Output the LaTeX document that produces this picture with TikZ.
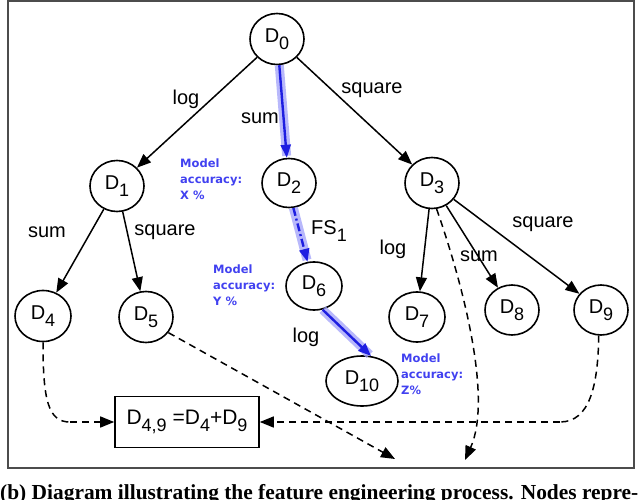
\documentclass[tikz,border=0pt]{standalone}
\usepackage{fontspec}
\setmainfont{Liberation Sans}
\newfontfamily\accfont{DejaVu Sans}
\newfontfamily\capfont{Liberation Serif}
\usetikzlibrary{shapes.geometric,arrows.meta}
\definecolor{hiblue}{RGB}{30,30,225}
\definecolor{accblue}{RGB}{65,65,240}
\definecolor{glow}{RGB}{160,160,250}
\newcommand{\Dn}[1]{D\raisebox{-0.36em}{\fontsize{18}{18}\selectfont #1}}
\newcommand{\Sb}[1]{\raisebox{-0.36em}{\fontsize{18}{18}\selectfont #1}}
\begin{document}
\begin{tikzpicture}[x=1pt,y=-1pt,
  dnode/.style={draw,ellipse,line width=1.6pt,minimum width=54pt,minimum height=51pt,inner sep=0pt,font=\fontsize{20}{20}\selectfont},
  arr/.style={line width=1.5pt,-{Triangle[length=14pt,width=11pt]}},
  dsh/.style={line width=1.5pt,dash pattern=on 7pt off 5pt,-{Triangle[length=14pt,width=11pt]}},
  dshn/.style={line width=1.5pt,dash pattern=on 7pt off 5pt},
  glowline/.style={line width=9pt,glow,opacity=0.75,shorten >=2pt},
  barr/.style={line width=2.4pt,hiblue,-{Triangle[length=13pt,width=10pt]}},
  lbl/.style={font=\fontsize{20}{20}\selectfont,inner sep=0pt},
  acc/.style={font=\accfont\bfseries\fontsize{11.5}{16}\selectfont,text=accblue,align=left,anchor=north west,inner sep=0pt}]
\useasboundingbox (0,0) rectangle (640,500);
\clip (0,0) rectangle (640,500);
% frame
\draw[line width=1.6pt,black!70] (8,1) rectangle (634,468);
% nodes
\node[dnode] (D0) at (277,39) {\Dn{0}};
\node[dnode] (D1) at (117,186) {\Dn{1}};
\node[dnode,minimum height=49pt] (D2) at (289,183) {\Dn{2}};
\node[dnode] (D3) at (432,183) {\Dn{3}};
\node[dnode,minimum width=56pt] (D4) at (43,316) {\Dn{4}};
\node[dnode] (D5) at (146,317) {\Dn{5}};
\node[dnode,minimum width=56pt,minimum height=48pt] (D6) at (314,286) {\Dn{6}};
\node[dnode,minimum width=56pt,minimum height=50pt] (D7) at (417,317) {\Dn{7}};
\node[dnode,minimum height=50pt] (D8) at (512,310) {\Dn{8}};
\node[dnode,minimum height=50pt] (D9) at (601,310) {\Dn{9}};
\node[dnode,minimum width=72pt,minimum height=50pt] (D10) at (362,381) {\Dn{10}};
\node[draw,line width=1.6pt,minimum width=144pt,minimum height=51pt,inner sep=0pt,font=\fontsize{21}{21}\selectfont] (box) at (187,422) {D\Sb{4,9} =D\Sb{4}+D\Sb{9}};
% solid edges
\draw[arr] (D0) -- (D1);
\draw[arr] (D0) -- (D3);
\draw[arr] (D1) -- (D4);
\draw[arr] (D1) -- (D5);
\draw[arr] (D3) -- (D7);
\draw[arr] (D3) -- (D8);
\draw[arr] (D3) -- (D9);
% highlighted path
\draw[glowline] (D0.-85) -- (D2.95);
\draw[glowline] (D2.-80) -- (D6.105);
\draw[glowline] (D6.-70) -- (D10.70);
\draw[barr] (D0.-85) -- (D2.95);
\draw[barr,dash pattern=on 8pt off 3pt on 2pt off 3pt] (D2.-80) -- (D6.105);
\draw[barr] (D6.-70) -- (D10.70);
% dashed edges
\coordinate (tipA) at (395,459);
\coordinate (tipB) at (465,460);
\coordinate (c9) at (560,422);
\coordinate (c4) at (70,422);
\draw[dsh] (D5.-35) -- (tipA);
\draw[dsh] (D3.-80) .. controls (465,290) and (492,400) .. (tipB);
\draw[dshn] (D9.-95) .. controls (598,385) and (590,422) .. (c9);
\draw[dsh] (c9) -- (box.east);
\draw[dshn] (D4.-90) .. controls (43,400) and (48,422) .. (c4);
\draw[dsh] (c4) -- (box.west);
% labels
\node[lbl] (l1) at (186,99) {log};
\node[lbl] (l2) at (260,118) {sum};
\node[lbl] (l3) at (372,90) {square};
\node[lbl] (l4) at (47,232) {sum};
\node[lbl] (l5) at (165,232) {square};
\node[lbl] (l6) at (329,231) {FS\Sb{1}};
\node[lbl] (l7) at (306,337) {log};
\node[lbl] (l8) at (393,249) {log};
\node[lbl] (l9) at (479,256) {sum};
\node[lbl] (l10) at (543,224) {square};
% accuracy notes
\node[acc] (a1) at (180,159) {Model\\accuracy:\\X \%};
\node[acc] (a2) at (213,265) {Model\\accuracy:\\Y \%};
\node[acc] (a3) at (401,354) {Model\\accuracy:\\Z\%};
% caption
\node[anchor=north west,inner sep=0pt] (cap) at (0,484) {\resizebox{638pt}{!}{\capfont\bfseries (b) Diagram illustrating the feature engineering process. Nodes repre-}};
\end{tikzpicture}
\end{document}
